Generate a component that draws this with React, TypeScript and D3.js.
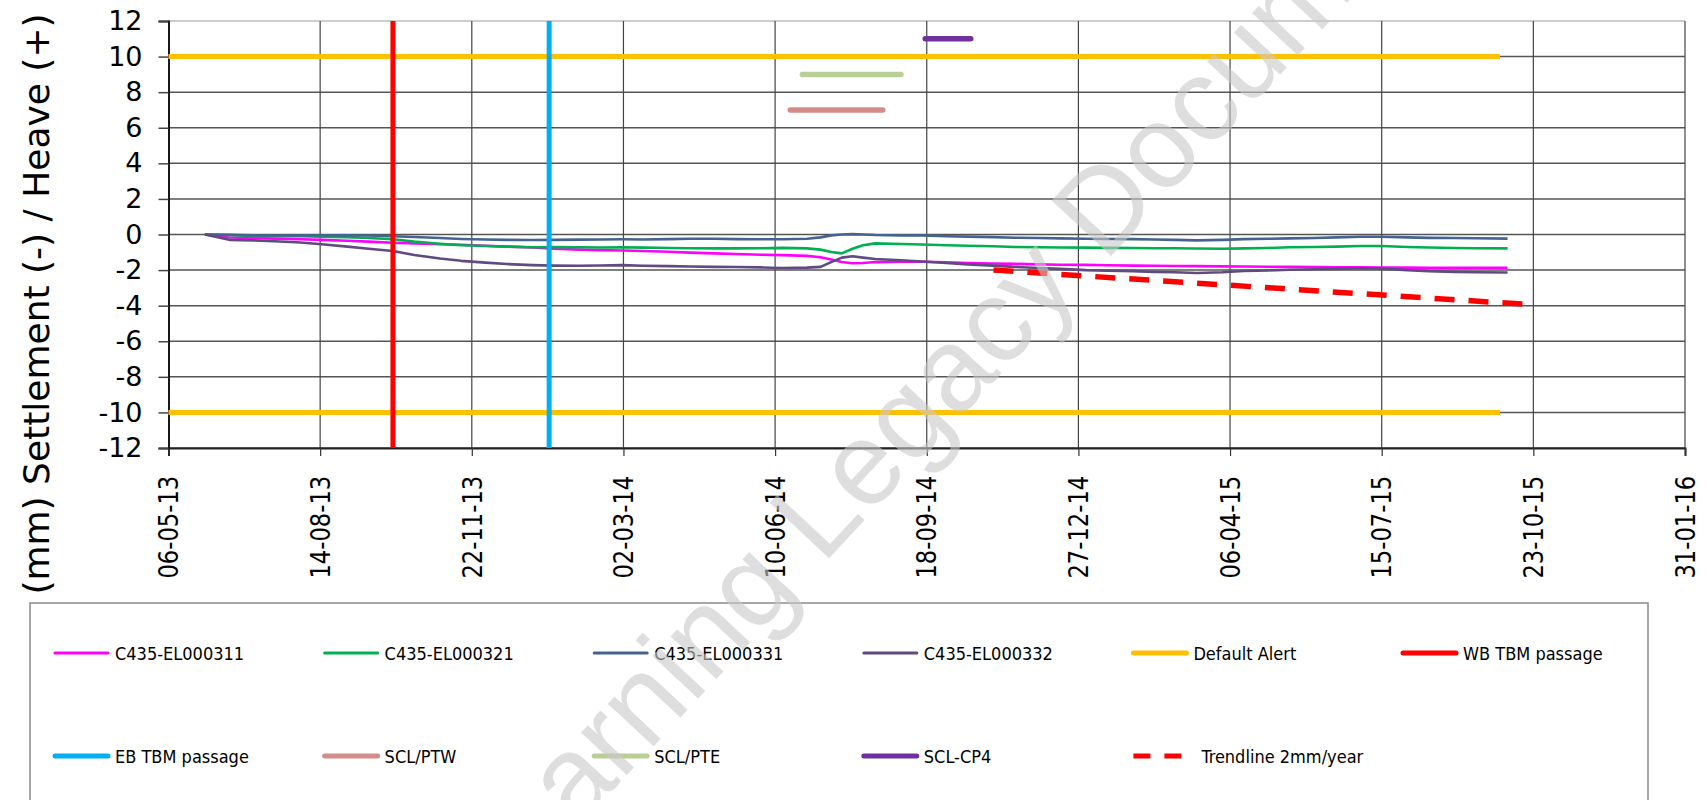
import { useEffect, useRef } from "react";
import * as d3 from "d3";

// axis ticks
const xTickLabels = [
  "06-05-13", "14-08-13", "22-11-13", "02-03-14", "10-06-14", "18-09-14",
  "27-12-14", "06-04-15", "15-07-15", "23-10-15", "31-01-16",
];
const yTicks = [-12, -10, -8, -6, -4, -2, 0, 2, 4, 6, 8, 10, 12];

// monitoring readings (mm)
const sampleDates = [
  "2013-05-30", "2013-06-15", "2013-07-01", "2013-07-15", "2013-08-01", "2013-08-15",
  "2013-09-01", "2013-09-15", "2013-10-01", "2013-10-15", "2013-11-01", "2013-11-15",
  "2013-12-01", "2013-12-15", "2014-01-01", "2014-01-15", "2014-02-01", "2014-02-15",
  "2014-03-01", "2014-03-15", "2014-04-01", "2014-04-15", "2014-05-01", "2014-05-15",
  "2014-06-01", "2014-06-15", "2014-07-01", "2014-07-10", "2014-07-17", "2014-07-24",
  "2014-07-31", "2014-08-07", "2014-08-15", "2014-09-01", "2014-09-15", "2014-10-01",
  "2014-10-15", "2014-11-01", "2014-11-15", "2014-12-01", "2014-12-15", "2015-01-01",
  "2015-01-15", "2015-02-01", "2015-02-15", "2015-03-01", "2015-03-15", "2015-04-01",
  "2015-04-15", "2015-05-01", "2015-05-15", "2015-06-01", "2015-06-15", "2015-07-01",
  "2015-07-15", "2015-08-01", "2015-08-15", "2015-09-01", "2015-09-15", "2015-10-06",
];
const el311 = [
  0, -0.17, -0.2, -0.23, -0.27, -0.3, -0.35, -0.4, -0.46, -0.5, -0.55, -0.58,
  -0.63, -0.68, -0.73, -0.8, -0.85, -0.88, -0.9, -0.93, -0.97, -1.02, -1.06, -1.1,
  -1.14, -1.16, -1.2, -1.28, -1.4, -1.55, -1.62, -1.6, -1.55, -1.53, -1.53, -1.56,
  -1.6, -1.63, -1.65, -1.68, -1.7, -1.71, -1.73, -1.75, -1.76, -1.77, -1.78, -1.79,
  -1.8, -1.81, -1.82, -1.83, -1.84, -1.85, -1.86, -1.86, -1.87, -1.87, -1.87, -1.87,
];
const el321 = [
  0, -0.03, -0.08, -0.1, -0.1, -0.12, -0.15, -0.2, -0.27, -0.4, -0.52, -0.6,
  -0.65, -0.68, -0.72, -0.7, -0.72, -0.73, -0.72, -0.74, -0.76, -0.77, -0.78, -0.78,
  -0.77, -0.75, -0.78, -0.85, -0.98, -1.06, -0.8, -0.6, -0.5, -0.53, -0.56, -0.6,
  -0.63, -0.66, -0.7, -0.72, -0.73, -0.74, -0.75, -0.76, -0.77, -0.77, -0.79, -0.8,
  -0.78, -0.76, -0.72, -0.7, -0.68, -0.65, -0.65, -0.7, -0.73, -0.76, -0.77, -0.78,
];
const el331 = [
  0, -0.02, -0.05, -0.06, -0.05, -0.04, -0.05, -0.06, -0.1, -0.14, -0.2, -0.25,
  -0.28, -0.3, -0.31, -0.3, -0.29, -0.28, -0.27, -0.28, -0.26, -0.24, -0.24, -0.26,
  -0.27, -0.27, -0.24, -0.16, -0.05, 0, 0.02, 0, -0.03, -0.06, -0.06, -0.1,
  -0.12, -0.15, -0.18, -0.2, -0.22, -0.24, -0.25, -0.26, -0.28, -0.3, -0.33, -0.3,
  -0.26, -0.24, -0.22, -0.2, -0.16, -0.13, -0.13, -0.16, -0.19, -0.2, -0.21, -0.23,
];
const el332 = [
  0, -0.3, -0.33, -0.38, -0.45, -0.55, -0.68, -0.8, -0.93, -1.15, -1.35, -1.48,
  -1.58, -1.66, -1.72, -1.75, -1.76, -1.74, -1.72, -1.76, -1.78, -1.8, -1.82, -1.83,
  -1.85, -1.88, -1.86, -1.82, -1.55, -1.3, -1.22, -1.3, -1.38, -1.45, -1.52, -1.6,
  -1.68, -1.75, -1.82, -1.88, -1.93, -2.0, -2.03, -2.06, -2.1, -2.12, -2.16, -2.12,
  -2.05, -2.02, -1.98, -1.95, -1.93, -1.9, -1.92, -2.0, -2.06, -2.1, -2.12, -2.14,
];

// reference lines
const alertDates = ["2013-05-06", "2015-10-01"];
const alertLevels = [10, -10];
const wbTbmDate = "2013-10-01";
const ebTbmDate = "2014-01-12";
const sclPtwDates = ["2014-06-20", "2014-08-20"];
const sclPtwLevel = 7;
const sclPteDates = ["2014-06-28", "2014-09-01"];
const sclPteLevel = 9;
const sclCp4Dates = ["2014-09-17", "2014-10-17"];
const sclCp4Level = 11;
const trendDates = ["2014-11-01", "2015-10-23"];
const trendValues = [-2, -3.95];

const legendRow1 = ["C435-EL000311", "C435-EL000321", "C435-EL000331", "C435-EL000332", "Default Alert", "WB TBM passage"];
const legendRow2 = ["EB TBM passage", "SCL/PTW", "SCL/PTE", "SCL-CP4", "Trendline 2mm/year"];

const C = {
  el311: "#FF00FF",
  el321: "#00B050",
  el331: "#44648F",
  el332: "#5F4B80",
  alert: "#FFC000",
  wb: "#FF0000",
  eb: "#00B0F0",
  ptw: "#D38C8A",
  pte: "#B9CF96",
  cp4: "#7030A0",
  trend: "#FF0000",
};

const legendStyle: Record<string, { color: string; width: number; dash?: string }> = {
  "C435-EL000311": { color: C.el311, width: 3 },
  "C435-EL000321": { color: C.el321, width: 3 },
  "C435-EL000331": { color: C.el331, width: 3 },
  "C435-EL000332": { color: C.el332, width: 3 },
  "Default Alert": { color: C.alert, width: 5 },
  "WB TBM passage": { color: C.wb, width: 5 },
  "EB TBM passage": { color: C.eb, width: 5 },
  "SCL/PTW": { color: C.ptw, width: 5 },
  "SCL/PTE": { color: C.pte, width: 5 },
  "SCL-CP4": { color: C.cp4, width: 5 },
  "Trendline 2mm/year": { color: C.trend, width: 5, dash: "17 14" },
};

export default function App() {
  const ref = useRef<SVGSVGElement | null>(null);

  useEffect(() => {
    const el = ref.current;
    if (!el) return;
    const svg = d3.select(el);
    svg.selectAll("*").remove();

    const W = 1707;
    const H = 800;
    const iso = d3.timeParse("%Y-%m-%d");
    const tickParse = d3.timeParse("%d-%m-%y");
    const tickDates = xTickLabels.map((t) => tickParse(t) as Date);

    const x = d3
      .scaleTime()
      .domain([tickDates[0], tickDates[tickDates.length - 1]])
      .range([168.5, 1685]);
    const y = d3.scaleLinear().domain([-12, 12]).range([448, 21]);

    svg.append("rect").attr("width", W).attr("height", H).attr("fill", "#fff");

    const axisFont = "'DejaVu Sans', Verdana, sans-serif";

    // grid
    const grid = svg.append("g");
    grid
      .selectAll("line.h")
      .data(yTicks)
      .join("line")
      .attr("x1", x.range()[0])
      .attr("x2", x.range()[1])
      .attr("y1", (d) => y(d))
      .attr("y2", (d) => y(d))
      .attr("stroke", (d) => (d === 12 ? "#bdbdbd" : "#555"))
      .attr("stroke-width", 1.5);
    grid
      .selectAll("line.v")
      .data(tickDates.slice(1))
      .join("line")
      .attr("x1", (d) => x(d))
      .attr("x2", (d) => x(d))
      .attr("y1", y(12))
      .attr("y2", y(-12))
      .attr("stroke", "#444")
      .attr("stroke-width", 1.2);

    // axes
    const yAxis = svg
      .append("g")
      .attr("transform", `translate(${x.range()[0]},0)`)
      .call(d3.axisLeft(y).tickValues(yTicks).tickSize(10).tickPadding(16).tickFormat((d) => String(d)));
    yAxis.select(".domain").attr("stroke", "#000").attr("stroke-width", 1.8);
    yAxis.selectAll(".tick line").attr("stroke", "#444").attr("stroke-width", 1.5);
    yAxis
      .selectAll("text")
      .attr("font-size", 27)
      .attr("font-family", axisFont)
      .attr("fill", "#000");

    const xAxis = svg
      .append("g")
      .attr("transform", `translate(0,${y(-12)})`)
      .call(d3.axisBottom(x).tickValues(tickDates).tickSize(8).tickFormat((_, i) => xTickLabels[i]));
    xAxis.select(".domain").attr("stroke", "#222").attr("stroke-width", 2);
    xAxis.selectAll(".tick line").attr("stroke", "#333").attr("stroke-width", 1.2);
    xAxis
      .selectAll("text")
      .attr("font-size", 27)
      .attr("font-family", axisFont)
      .attr("fill", "#000")
      .attr("text-anchor", "end")
      .attr("dominant-baseline", "central")
      .attr("transform", "rotate(-90) scale(0.84,1)")
      .attr("x", -33)
      .attr("y", 0)
      .attr("dy", null);

    // y title
    svg
      .append("text")
      .attr("transform", "translate(36,304) rotate(-90)")
      .attr("text-anchor", "middle")
      .attr("dominant-baseline", "central")
      .attr("font-size", 36)
      .attr("font-family", axisFont)
      .attr("fill", "#000")
      .text("(mm) Settlement (-) / Heave (+)");

    const plot = svg.append("g");
    const line = d3
      .line<[Date, number]>()
      .x((d) => x(d[0]))
      .y((d) => y(d[1]));
    const dates = sampleDates.map((d) => iso(d) as Date);

    const series: [number[], string][] = [
      [el311, C.el311],
      [el321, C.el321],
      [el331, C.el331],
      [el332, C.el332],
    ];
    series.forEach(([vals, col]) => {
      plot
        .append("path")
        .attr("d", line(vals.map((v, i) => [dates[i], v])))
        .attr("fill", "none")
        .attr("stroke", col)
        .attr("stroke-width", 2.6)
        .attr("stroke-linejoin", "round");
    });

    // default alert
    alertLevels.forEach((lv) => {
      plot
        .append("path")
        .attr("d", line(alertDates.map((d) => [iso(d) as Date, lv])))
        .attr("stroke", C.alert)
        .attr("stroke-width", 5)
        .attr("fill", "none");
    });

    // TBM passages
    ([[wbTbmDate, C.wb], [ebTbmDate, C.eb]] as [string, string][]).forEach(([d, col]) => {
      plot
        .append("path")
        .attr("d", line([[iso(d) as Date, -12], [iso(d) as Date, 12]]))
        .attr("stroke", col)
        .attr("stroke-width", 5)
        .attr("fill", "none");
    });

    // SCL works
    ([
      [sclPtwDates, sclPtwLevel, C.ptw],
      [sclPteDates, sclPteLevel, C.pte],
      [sclCp4Dates, sclCp4Level, C.cp4],
    ] as [string[], number, string][]).forEach(([ds, lv, col]) => {
      plot
        .append("path")
        .attr("d", line(ds.map((d) => [iso(d) as Date, lv])))
        .attr("stroke", col)
        .attr("stroke-width", 5.5)
        .attr("stroke-linecap", "round")
        .attr("fill", "none");
    });

    // trendline
    plot
      .append("path")
      .attr("d", line(trendDates.map((d, i) => [iso(d) as Date, trendValues[i]])))
      .attr("stroke", C.trend)
      .attr("stroke-width", 5.5)
      .attr("stroke-dasharray", "20 14")
      .attr("fill", "none");

    // legend
    const lg = svg.append("g");
    lg.append("rect")
      .attr("x", 30)
      .attr("y", 603)
      .attr("width", 1618)
      .attr("height", 240)
      .attr("fill", "none")
      .attr("stroke", "#8a8a8a")
      .attr("stroke-width", 1.5);

    const colX = d3.scaleLinear().domain([0, 1]).range([55, 324.6]);
    const legendFont = "'DejaVu Sans Condensed', 'Liberation Sans Narrow', 'DejaVu Sans', sans-serif";
    ([[legendRow1, 653], [legendRow2, 756]] as [string[], number][]).forEach(([row, ry]) => {
      row.forEach((name, i) => {
        const st = legendStyle[name];
        const x0 = colX(i);
        lg.append("line")
          .attr("x1", x0)
          .attr("x2", x0 + 53)
          .attr("y1", ry)
          .attr("y2", ry)
          .attr("stroke", st.color)
          .attr("stroke-width", st.width)
          .attr("stroke-linecap", st.dash ? "butt" : "round")
          .attr("stroke-dasharray", st.dash ?? null);
        lg.append("text")
          .attr("x", x0 + (st.dash ? 68 : 60))
          .attr("y", ry)
          .attr("dominant-baseline", "central")
          .attr("font-size", 18)
          .attr("font-family", legendFont)
          .attr("font-stretch", "condensed")
          .attr("fill", "#000")
          .text(name);
      });
    });

    // watermark
    svg
      .append("text")
      .attr("transform", "translate(487,925) rotate(-47)")
      .attr("font-size", 118)
      .attr("font-family", "'Liberation Sans', Arial, sans-serif")
      .attr("fill", "#c8c8c8")
      .attr("fill-opacity", 0.6)
      .text("Learning Legacy Document");
  }, []);

  return (
    <div style={{ position: "fixed", left: 0, top: 0, width: 1707, height: 800, overflow: "hidden" }}>
      <svg ref={ref} width={1707} height={800} />
    </div>
  );
}
